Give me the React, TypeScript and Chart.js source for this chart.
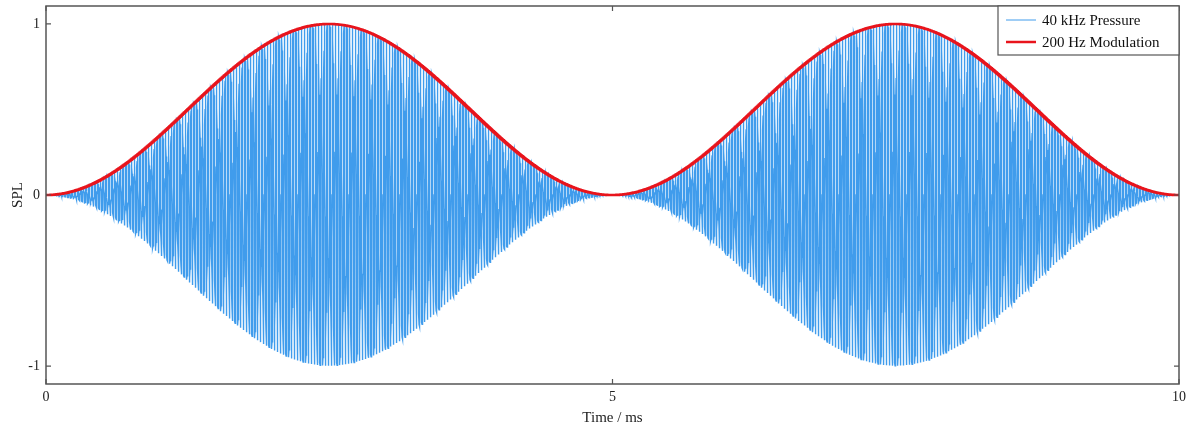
import React, { useEffect, useRef } from "react";
import { Chart, registerables } from "chart.js";

Chart.register(...registerables);

// ---- data ----
const X_TICKS = [0, 5, 10]; // Time / ms
const Y_TICKS = [-1, 0, 1]; // SPL
const X_RANGE = [0, 10];
const Y_RANGE = [-1.105, 1.105];
const SERIES_LABELS = ["40 kHz Pressure", "200 Hz Modulation"];
const SERIES_COLORS = ["#409cec", "#e8141c"];
// The series are the signals named by the legend: a 40 kHz carrier under a 200 Hz envelope.
const CARRIER_KHZ = 40;
const MODULATION_HZ = 200;
const SAMPLES_PER_MS = 1000;

const timeMs: number[] = [];
for (let i = 0; i <= X_RANGE[1] * SAMPLES_PER_MS; i++) timeMs.push(i / SAMPLES_PER_MS);
const modulation: number[] = timeMs.map(
  (t) => 0.5 * (1 - Math.cos(2 * Math.PI * (MODULATION_HZ / 1000) * t))
);
const pressure: number[] = timeMs.map(
  (t, i) => modulation[i] * Math.sin(2 * Math.PI * CARRIER_KHZ * t)
);

const FONT = "'Liberation Serif', 'DejaVu Serif', serif";
const FRAME = "#555555";

const framePlugin = {
  id: "frameTicks",
  afterDatasetsDraw(chart: any) {
    const { ctx, chartArea: a, scales } = chart;
    ctx.save();
    ctx.strokeStyle = FRAME;
    ctx.lineWidth = 1.5;
    ctx.strokeRect(a.left, a.top, a.right - a.left, a.bottom - a.top);
    ctx.lineWidth = 1.2;
    const L = 5;
    ctx.beginPath();
    for (const v of X_TICKS) {
      const x = scales.x.getPixelForValue(v);
      ctx.moveTo(x, a.bottom);
      ctx.lineTo(x, a.bottom - L);
      ctx.moveTo(x, a.top);
      ctx.lineTo(x, a.top + L);
    }
    for (const v of Y_TICKS) {
      const y = scales.y.getPixelForValue(v);
      ctx.moveTo(a.left, y);
      ctx.lineTo(a.left + L, y);
      ctx.moveTo(a.right, y);
      ctx.lineTo(a.right - L, y);
    }
    ctx.stroke();

    // legend box, top-right inside the plot
    const w = 181;
    const h = 49;
    const bx = a.right - w;
    const by = a.top;
    ctx.fillStyle = "#ffffff";
    ctx.fillRect(bx, by, w, h);
    ctx.strokeStyle = FRAME;
    ctx.lineWidth = 1.2;
    ctx.strokeRect(bx, by, w, h);
    ctx.font = `15px ${FONT}`;
    ctx.textBaseline = "middle";
    ctx.textAlign = "left";
    const rows = [by + 14, by + 36];
    const widths = [1, 2.5];
    SERIES_LABELS.forEach((lab, i) => {
      ctx.strokeStyle = SERIES_COLORS[i];
      ctx.lineWidth = widths[i];
      ctx.beginPath();
      ctx.moveTo(bx + 8, rows[i]);
      ctx.lineTo(bx + 38, rows[i]);
      ctx.stroke();
      ctx.fillStyle = "#111111";
      ctx.fillText(lab, bx + 44, rows[i] + 1);
    });
    ctx.restore();
  },
};

export default function App() {
  const ref = useRef<HTMLCanvasElement | null>(null);
  useEffect(() => {
    document.body.style.margin = "0";
    const canvas = ref.current!;
    const chart = new Chart(canvas, {
      type: "line",
      data: {
        datasets: [
          {
            label: SERIES_LABELS[0],
            data: timeMs.map((t, i) => ({ x: t, y: pressure[i] })),
            borderColor: SERIES_COLORS[0],
            borderWidth: 1.4,
            pointRadius: 0,
            tension: 0,
            order: 2,
          },
          {
            label: SERIES_LABELS[1],
            data: timeMs.map((t, i) => ({ x: t, y: modulation[i] })),
            borderColor: SERIES_COLORS[1],
            borderWidth: 2.6,
            pointRadius: 0,
            tension: 0,
            order: 1,
          },
        ],
      },
      options: {
        animation: false,
        responsive: false,
        events: [],
        layout: { padding: { top: 6, right: 12, left: 0, bottom: 0 } },
        plugins: {
          legend: { display: false },
          tooltip: { enabled: false },
        },
        scales: {
          x: {
            type: "linear",
            min: X_RANGE[0],
            max: X_RANGE[1],
            afterBuildTicks: (s: any) => {
              s.ticks = X_TICKS.map((v) => ({ value: v }));
            },
            afterFit: (s: any) => {
              s.height = 43;
              s.paddingLeft = 0;
              s.paddingRight = 0;
            },
            grid: { display: false, drawTicks: false },
            border: { display: false },
            ticks: {
              color: "#222",
              font: { family: FONT, size: 14 },
              padding: 5,
              maxRotation: 0,
              callback: (v: any) => String(v),
            },
            title: {
              display: true,
              text: "Time / ms",
              color: "#222",
              font: { family: FONT, size: 15 },
              padding: { top: 0, bottom: 0 },
            },
          },
          y: {
            type: "linear",
            min: Y_RANGE[0],
            max: Y_RANGE[1],
            afterBuildTicks: (s: any) => {
              s.ticks = Y_TICKS.map((v) => ({ value: v }));
            },
            afterFit: (s: any) => {
              s.width = 46;
              s.paddingTop = 0;
              s.paddingBottom = 0;
            },
            grid: { display: false, drawTicks: false },
            border: { display: false },
            ticks: {
              color: "#222",
              font: { family: FONT, size: 14 },
              padding: 6,
              callback: (v: any) => String(v),
            },
            title: {
              display: true,
              text: "SPL",
              color: "#222",
              font: { family: FONT, size: 15 },
              padding: { top: 9, bottom: 0 },
            },
          },
        },
      },
      plugins: [framePlugin],
    });
    return () => chart.destroy();
  }, []);
  return (
    <div style={{ width: 1191, height: 427 }}>
      <canvas ref={ref} width={1191} height={427} style={{ display: "block" }} />
    </div>
  );
}
